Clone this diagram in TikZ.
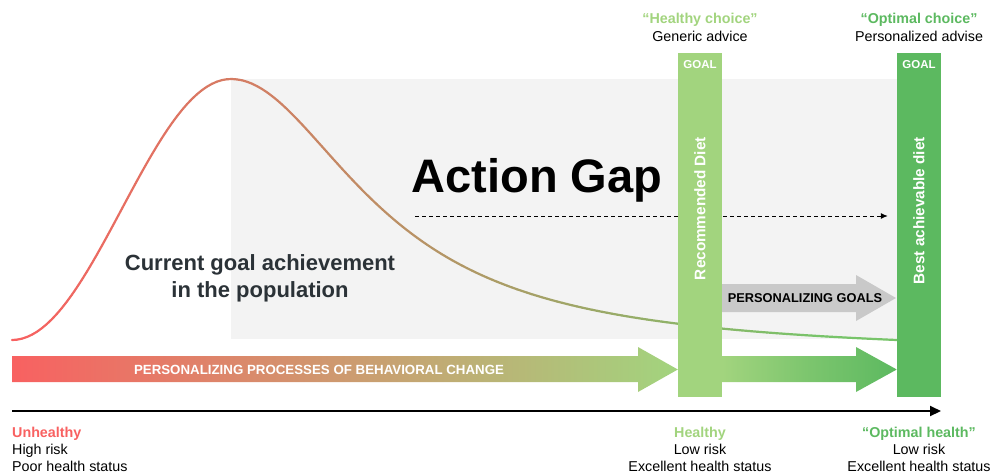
\documentclass[tikz,border=0pt]{standalone}
\usepackage{fontspec}
\setmainfont{Liberation Sans}
\usetikzlibrary{arrows.meta, positioning}

\definecolor{riskred}{HTML}{F86161}
\definecolor{healthgreen}{HTML}{A2D47E}
\definecolor{optgreen}{HTML}{5CB960}
\definecolor{curvegreen}{HTML}{78C46A}
\definecolor{gapgray}{HTML}{F3F3F3}
\definecolor{goalsgray}{HTML}{C9C9C9}
\definecolor{darktext}{HTML}{2B3237}

% height of the population curve at x (in px)
\newcommand{\popheight}[2]{%
  \ifdim #1pt<231pt
    \pgfmathsetmacro{#2}{340-261*(1-cos(0.8219*(#1-12)))/2}%
  \else
    \pgfmathsetmacro{\popu}{(#1-231)/160}%
    \pgfmathsetmacro{#2}{340-261*(1/(1+\popu*\popu)-0.0546)/0.9454}%
  \fi}

\tikzset{
  labelfont/.style={font=\fontsize{14.3}{17}\selectfont, inner sep=0pt, align=center},
  goalbar/.style={minimum width=44pt, minimum height=344pt, inner sep=0pt},
  goaltag/.style={font=\bfseries\fontsize{11.5}{13}\selectfont, text=white, inner sep=0pt},
  dietlabel/.style={font=\bfseries\fontsize{15.3}{18}\selectfont, text=white, rotate=90, anchor=east, inner sep=0pt},
  arrowtext/.style={font=\bfseries\fontsize{12.8}{15}\selectfont, inner sep=0pt}
}

\begin{document}
\begin{tikzpicture}[x=1pt,y=-1pt]
\useasboundingbox (0,0) rectangle (995,474);

% background of the gap
\fill[gapgray] (231,79) rectangle (897,339);

% population curve
\foreach \i in {0,...,176} {
  \pgfmathsetmacro{\xa}{12+5*\i}
  \pgfmathsetmacro{\xb}{\xa+5}
  \popheight{\xa}{\ya}
  \popheight{\xb}{\yb}
  \pgfmathsetmacro{\mixval}{min(100,0.62*\i)}
  \draw[line width=2.2pt, line cap=round, color=curvegreen!\mixval!riskred] (\xa,\ya) -- (\xb,\yb);
}

% titles inside the gap
\node[font=\bfseries\fontsize{47}{50}\selectfont, inner sep=0pt] (gap) at (537,180) {Action Gap};
\node[font=\bfseries\fontsize{22}{27}\selectfont, text=darktext, inner sep=0pt, align=center] (current) at (260,278) {Current goal achievement\\in the population};

% goal bars
\node[goalbar, fill=healthgreen] (recbar) at (700,225) {};
\node[goalbar, fill=optgreen] (bestbar) at (919,225) {};

\coordinate (gapstart) at (415,216);
\coordinate (gapend) at ([xshift=-9pt]bestbar.west |- gapstart);
\draw[dash pattern=on 4pt off 3pt, line width=1pt, -{Latex[length=7pt,width=6pt]}] (gapstart) -- (gapend);
\fill[healthgreen] (recbar.north west) rectangle (recbar.south east);

\node[goaltag] (recgoal) at (700,65) {GOAL};
\node[goaltag] (bestgoal) at (919,65) {GOAL};
\node[dietlabel] (rectext) at (700,137) {Recommended Diet};
\node[dietlabel] (besttext) at (919,137) {Best achievable diet};

% arrows of change
\shade[left color=riskred, right color=healthgreen]
  (12,356) -- (638,356) -- (638,347) -- (recbar.west |- 0,369.5) -- (638,392) -- (638,382) -- (12,382) -- cycle;
\node[arrowtext, font=\bfseries\fontsize{13.3}{15}\selectfont, text=white] (process) at (319,369.5) {PERSONALIZING PROCESSES OF BEHAVIORAL CHANGE};

\shade[left color=healthgreen, right color=optgreen, middle color=healthgreen!45!optgreen]
  (recbar.east |- 0,356) -- (856,356) -- (856,347) -- (bestbar.west |- 0,369.5) -- (856,392) -- (856,382) -- (recbar.east |- 0,382) -- cycle;

\fill[goalsgray]
  (recbar.east |- 0,284) -- (856,284) -- (856,275) -- (896,298) -- (856,321) -- (856,312) -- (recbar.east |- 0,312) -- cycle;
\node[arrowtext] (goals) at (805,298) {PERSONALIZING GOALS};

% health axis
\coordinate (origin) at (12,411);
\coordinate (axisend) at (941,411);
\draw[line width=2pt, -{Triangle[length=11pt,width=10pt]}] (origin) -- (axisend);

% top labels
\node[labelfont] (healthychoice) at (700,20) {\textcolor{healthgreen}{\bfseries “Healthy choice”}};
\node[labelfont, below=4pt of healthychoice] (generic) {Generic advice};
\node[labelfont] (optchoice) at (919,20) {\textcolor{optgreen}{\bfseries “Optimal choice”}};
\node[labelfont, below=4pt of optchoice] (personal) {Personalized advise};

% bottom labels
\node[labelfont, align=left, anchor=north west] (unhealthy) at (12,427)
  {\textcolor{riskred}{\bfseries Unhealthy}\\High risk\\Poor health status};
\node[labelfont, anchor=north] (healthy) at (700,427)
  {\textcolor{healthgreen}{\bfseries Healthy}\\Low risk\\Excellent health status};
\node[labelfont, anchor=north] (opthealth) at (919,427)
  {\textcolor{optgreen}{\bfseries “Optimal health”}\\Low risk\\Excellent health status};
\end{tikzpicture}
\end{document}
